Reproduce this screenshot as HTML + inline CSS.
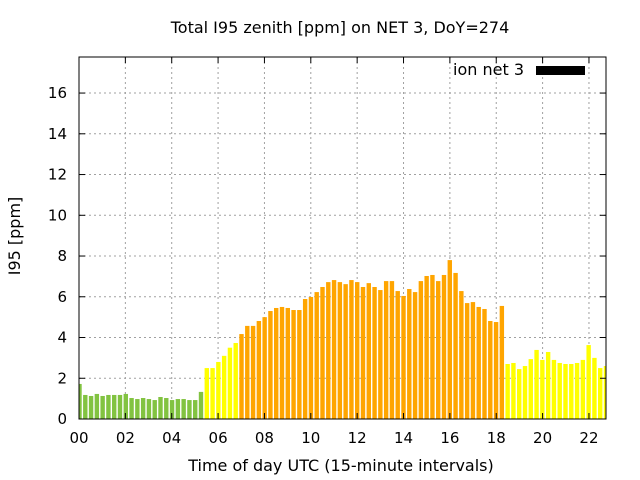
<!DOCTYPE html>
<html><head><meta charset="utf-8"><style>
html,body{margin:0;padding:0;background:#fff;}
svg{display:block;font-family:"DejaVu Sans","Liberation Sans",sans-serif;}
</style></head><body>
<svg id="chart" width="640" height="480" viewBox="0 0 640 480">
<text x="340" y="33" font-size="16" text-anchor="middle">Total I95 zenith [ppm] on NET 3, DoY=274</text>
<text transform="translate(20,236) rotate(-90)" font-size="16" text-anchor="middle">I95 [ppm]</text>
<text x="341" y="471" font-size="16" text-anchor="middle">Time of day UTC (15-minute intervals)</text>
<g id="grid"></g>
<g id="bars"></g>
<g id="axes"></g>
<g>
<text x="524" y="75" font-size="16" text-anchor="end">ion net 3</text>
<rect x="536" y="66" width="49" height="9" fill="#000"></rect>
</g>
</svg>
<script>
const values = [1.72,1.18,1.13,1.23,1.13,1.18,1.18,1.18,1.23,1.03,0.98,1.03,0.98,0.93,1.08,1.03,0.93,0.98,0.98,0.93,0.93,1.33,
2.5,2.5,2.8,3.1,3.5,3.73,
4.17,4.57,4.57,4.81,5.0,5.3,5.45,5.5,5.45,5.35,5.35,5.89,5.99,6.23,6.48,6.72,6.82,6.72,6.62,6.82,6.72,6.48,6.67,6.48,6.33,6.77,6.77,6.28,6.04,6.38,6.23,6.77,7.02,7.07,6.77,7.07,7.8,7.17,6.28,5.69,5.74,5.5,5.4,4.81,4.76,5.55,
2.7,2.75,2.45,2.6,2.94,3.39,2.9,3.29,2.9,2.75,2.7,2.7,2.75,2.9,3.63,3.0,2.5,2.6];
const levels = [].concat(Array(22).fill(0),Array(6).fill(1),Array(46).fill(2),Array(18).fill(1));
const levelColors = ["#82c341","#ffff00","#ffa500"];
const yTicks = [0,2,4,6,8,10,12,14,16];
const xTicks = [0,2,4,6,8,10,12,14,16,18,20,22];
const xTickLabels = ["00","02","04","06","08","10","12","14","16","18","20","22"];

const L=79,R=606,T=57,B=419;
const yMax=17.77;
function ys(v){return B-(v/yMax)*(B-T);}
function xh(h){return L+h*23.18;}
const pitch=(R-L-0.5)/(values.length-1);
function xb(i){return L+0.5+i*pitch;}
const NS="http://www.w3.org/2000/svg";
function mk(t,a,p){const e=document.createElementNS(NS,t);for(const k in a)e.setAttribute(k,a[k]);p.appendChild(e);return e;}
const grid=document.getElementById('grid'),bars=document.getElementById('bars'),axes=document.getElementById('axes');
yTicks.forEach(v=>{const y=ys(v);
 if(v>0){const g=mk('line',{x1:L,x2:R,y1:y,y2:y,stroke:'#a0a0a0','stroke-dasharray':'2,3'},grid);
 
 }
 const t=mk('line',{x1:L,x2:L+6,y1:y,y2:y,stroke:'#000'},axes);
 
 
 const t2=mk('line',{x1:R-6,x2:R,y1:y,y2:y,stroke:'#000'},axes);
 
 
 const lb=mk('text',{x:L-12,y:y+5,'font-size':15,'text-anchor':'end'},axes);lb.textContent=v;
 
 
});
xTicks.forEach((h,i)=>{const x=xh(h);
 if(h>0){const g=mk('line',{x1:x,x2:x,y1:T,y2:B,stroke:'#a0a0a0','stroke-dasharray':'2,3'},grid);
 
 }
 const t=mk('line',{x1:x,x2:x,y1:B-6,y2:B,stroke:'#000'},axes);
 
 
 const t2=mk('line',{x1:x,x2:x,y1:T,y2:T+6,stroke:'#000'},axes);
 
 
 const lb=mk('text',{x:x,y:443,'font-size':15,'text-anchor':'middle'},axes);lb.textContent=xTickLabels[i];
 
 
});
values.forEach((v,i)=>{const cx=xb(i);let x0=cx-2.2,x1=cx+2.2;x0=Math.max(x0,L);x1=Math.min(x1,R);
 const b=mk('rect',{x:x0,y:ys(v),width:x1-x0,height:B-ys(v),fill:levelColors[levels[i]]},bars);
 
 
});
const fr=mk('rect',{x:L,y:T,width:R-L,height:B-T,fill:'none',stroke:'#000','stroke-width':1},axes);


</script>
</body></html>
